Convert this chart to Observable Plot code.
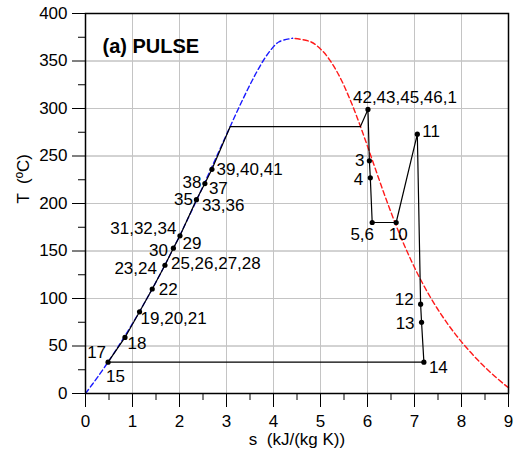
<!DOCTYPE html>
<html>
<head>
<meta charset="utf-8">
<script src="https://cdn.jsdelivr.net/npm/d3@7"></script>
<script src="https://cdn.jsdelivr.net/npm/@observablehq/plot@0.6"></script>
<style>
  html, body { margin: 0; padding: 0; background: white; overflow: hidden; }
  #chart svg { font-family: 'Liberation Sans', Arial, sans-serif; font-size: 17px; color: black; }
</style>
</head>
<body>
<div id="chart"></div>
<script>
// Saturation dome of water (T in °C, s in kJ/(kg K))
const liquidT = [0.01, 10, 20, 30, 40, 50, 60, 70, 80, 90, 100, 110, 120, 130, 140, 150, 160, 170, 180, 190, 200, 210, 220, 230, 240, 250, 260, 270, 280, 290, 300, 310, 320, 330, 340, 350, 360, 370, 373.95];
const liquidS = [0, 0.151, 0.297, 0.437, 0.572, 0.704, 0.831, 0.955, 1.076, 1.193, 1.307, 1.419, 1.528, 1.635, 1.739, 1.842, 1.943, 2.042, 2.139, 2.236, 2.331, 2.425, 2.518, 2.610, 2.702, 2.794, 2.885, 2.977, 3.069, 3.161, 3.255, 3.351, 3.449, 3.552, 3.660, 3.778, 3.917, 4.111, 4.407];
const vaporT = [6, 10, 20, 30, 40, 50, 60, 70, 80, 90, 100, 110, 120, 130, 140, 150, 160, 170, 180, 190, 200, 210, 220, 230, 240, 250, 260, 270, 280, 290, 300, 310, 320, 330, 340, 350, 360, 370, 373.95];
const vaporS = [9.0, 8.900, 8.666, 8.452, 8.256, 8.075, 7.908, 7.754, 7.611, 7.478, 7.354, 7.238, 7.129, 7.026, 6.929, 6.837, 6.749, 6.665, 6.584, 6.506, 6.430, 6.356, 6.284, 6.213, 6.142, 6.072, 6.002, 5.930, 5.858, 5.783, 5.706, 5.624, 5.537, 5.443, 5.336, 5.211, 5.054, 4.801, 4.407];

// Cycle path (state points in order)
const pathS = [0.48, 0.84, 1.15, 1.42, 1.69, 1.87, 2.01, 2.36, 2.54, 2.69, 3.08, 5.85, 6.01, 6.04, 6.06, 6.10, 6.61, 7.06, 7.13, 7.15, 7.20, 0.48];
const pathT = [33, 59, 86, 110, 135, 153, 166, 204, 221, 236, 281, 281, 299, 245, 227, 180, 180, 273, 94, 75, 33, 33];
const pathMarked = [1, 1, 1, 1, 1, 1, 1, 1, 1, 1, 0, 0, 1, 1, 1, 1, 1, 1, 1, 1, 1, 0];

// State labels
const labelNames = ["42,43,45,46,1", "3", "4", "5,6", "10", "11", "12", "13", "14", "15", "17", "18", "19,20,21", "22", "23,24", "25,26,27,28", "30", "29", "31,32,34", "35", "33,36", "38", "37", "39,40,41"];
const labelS = [6.01, 6.04, 6.06, 6.10, 6.61, 7.06, 7.13, 7.15, 7.20, 0.48, 0.48, 0.84, 1.15, 1.42, 1.69, 1.69, 1.87, 2.01, 2.01, 2.36, 2.36, 2.54, 2.54, 2.69];
const labelT = [299, 245, 227, 180, 180, 273, 94, 75, 33, 33, 33, 59, 86, 110, 135, 135, 153, 166, 166, 204, 204, 221, 221, 236];

// Axis ticks
const xTicks = [0, 1, 2, 3, 4, 5, 6, 7, 8, 9];
const xMinorTicks = [0.5, 1.5, 2.5, 3.5, 4.5, 5.5, 6.5, 7.5, 8.5];
const yTicks = [0, 50, 100, 150, 200, 250, 300, 350, 400];
const yMinorTicks = [25, 75, 125, 175, 225, 275, 325, 375];
const xGrid = [1, 2, 3, 4, 5, 6, 7, 8];
const yGrid = [50, 100, 150, 200, 250, 300, 350];

const title = "(a) PULSE";
const xLabel = "s  (kJ/(kg K))";
const yLabel = "T  (\u00BAC)";

// label placement (layout only)
const placement = [
  ["start", -15, -12], ["end", -5, 0], ["end", -7, 1.5], ["middle", -10, 12.5], ["middle", 2, 12.5],
  ["start", 5, -3], ["end", -7, -5], ["end", -7, 1.5], ["start", 5, 5.5], ["start", -2, 14],
  ["end", -2, -10], ["start", 2.5, 6], ["start", 1, 7], ["start", 6.5, 1], ["end", -8, 3],
  ["start", 6, -1.5], ["end", -5.5, 2], ["start", 2.5, 7.5], ["end", -3.5, -7], ["end", -3.5, 0],
  ["start", 5.5, 5.5], ["end", -3.5, -1.5], ["start", 4, 5], ["start", 4.5, 0.5]
];

const liquid = liquidT.map((t, i) => ({s: liquidS[i], T: t}));
const vapor = vaporT.map((t, i) => ({s: vaporS[i], T: t}));
const cycle = pathS.map((s, i) => ({s, T: pathT[i], m: pathMarked[i]}));
const labels = labelNames.map((name, i) => ({name, s: labelS[i], T: labelT[i]}));

const labelMarks = labels.map((d, i) => Plot.text([d], {
  x: "s", y: "T", text: "name",
  textAnchor: placement[i][0], dx: placement[i][1], dy: placement[i][2],
  fontSize: 17, fill: "black"
}));

const chart = Plot.plot({
  width: 516,
  height: 455,
  marginLeft: 85,
  marginRight: 8,
  marginTop: 13,
  marginBottom: 62,
  x: {domain: [0, 9]},
  y: {domain: [0, 400]},
  marks: [
    Plot.link(xGrid, {x1: d => d, x2: d => d, y1: () => 0, y2: () => 400, stroke: "#c4c4c4", strokeWidth: 1}),
    Plot.link(yGrid, {x1: () => 0, x2: () => 9, y1: d => d, y2: d => d, stroke: "#c4c4c4", strokeWidth: 1}),
    Plot.gridX(xGrid, {stroke: "#c4c4c4", strokeOpacity: 1}),
    Plot.gridY(yGrid, {stroke: "#c4c4c4", strokeOpacity: 1}),
    Plot.line(liquid, {x: "s", y: "T", stroke: "#1a1aff", strokeWidth: 1.4, strokeDasharray: "5,3", curve: "catmull-rom"}),
    Plot.line(vapor, {x: "s", y: "T", stroke: "#ff1a1a", strokeWidth: 1.4, strokeDasharray: "5,3", curve: "catmull-rom"}),
    Plot.line(cycle, {x: "s", y: "T", stroke: "black", strokeWidth: 1.2}),
    Plot.dot(cycle.filter(d => d.m), {x: "s", y: "T", r: 2.6, fill: "black"}),
    ...labelMarks,
    Plot.frame({stroke: "black", strokeWidth: 1.5}),
    Plot.axisX(xTicks, {tickSize: 14, tickPadding: 7, label: null, fontSize: 17}),
    Plot.axisX(xMinorTicks, {tickSize: 7, tickFormat: () => "", label: null}),
    Plot.axisY(yTicks, {tickSize: 13, tickPadding: 5, label: null, fontSize: 17}),
    Plot.axisY(yMinorTicks, {tickSize: 7, tickFormat: () => "", label: null}),
    Plot.text([title], {frameAnchor: "top-left", dx: 17, dy: 25, textAnchor: "start", fontSize: 20, fontWeight: "bold", fill: "black"}),
    Plot.text([xLabel], {frameAnchor: "bottom", dy: 51, fontSize: 17, fill: "black"}),
    Plot.text([yLabel], {frameAnchor: "left", dx: -62, rotate: -90, fontSize: 17, fill: "black"})
  ]
});

document.getElementById("chart").appendChild(chart);
</script>
</body>
</html>
